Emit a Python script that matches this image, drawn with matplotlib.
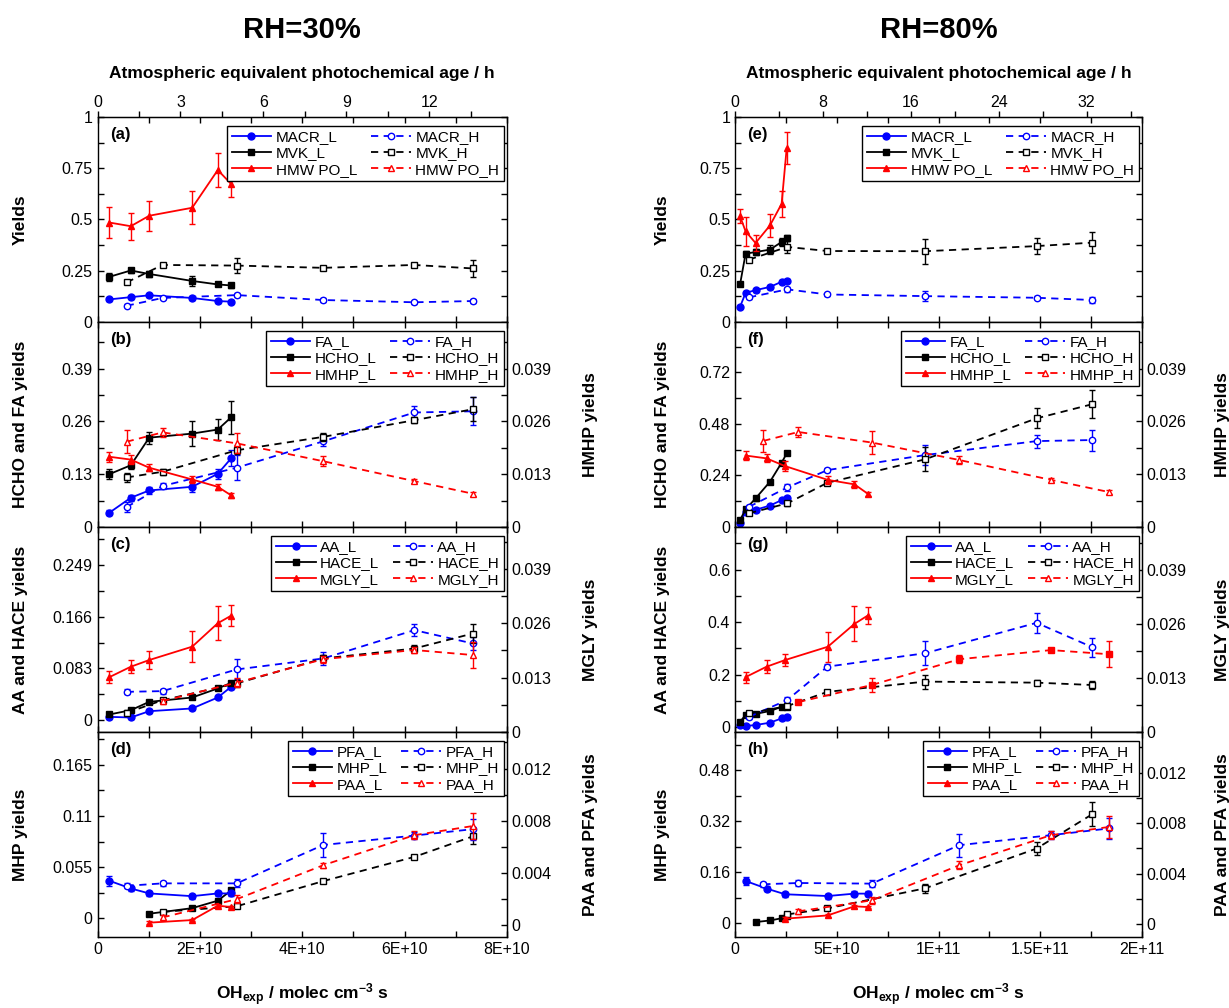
import matplotlib
matplotlib.use('Agg')
import matplotlib.pyplot as plt
from matplotlib.lines import Line2D
from matplotlib.ticker import AutoMinorLocator

plt.rcParams['font.family'] = ['Liberation Sans', 'DejaVu Sans']
plt.rcParams['mathtext.fontset'] = 'custom'
plt.rcParams['mathtext.rm'] = 'Liberation Sans'
plt.rcParams['mathtext.bf'] = 'Liberation Sans:bold'
plt.rcParams['mathtext.default'] = 'bf'

BLUE = '#0000ff'
RED = '#ff0000'
BLACK = '#000000'

# OH exposure, units of 1E10 molec cm-3 s
xL30 = [0.23, 0.65, 1.01, 1.85, 2.35, 2.61]
xH30 = [0.57, 1.27, 2.72, 4.41, 6.19, 7.33]
xL80 = [0.25, 0.52, 1.01, 1.72, 2.29, 2.54]
xH80 = [0.69, 2.57, 4.54, 9.34, 14.82, 17.56]
xL80b = [0.52, 1.55, 2.46, 4.56, 5.87, 6.52]     # HMHP, MGLY, PAA, PFA at RH=80%
xH80b = [1.39, 3.11, 6.72, 11.02, 15.53, 18.38]

# ---- RH=30% ----
# (a)
macr_L30 = [0.110, 0.121, 0.130, 0.117, 0.102, 0.099]
macr_L30_e = [0.008, 0.008, 0.008, 0.008, 0.008, 0.008]
mvk_L30 = [0.220, 0.251, 0.234, 0.200, 0.183, 0.178]
mvk_L30_e = [0.020, 0.012, 0.015, 0.025, 0.010, 0.010]
hmwpo_L30 = [0.485, 0.467, 0.518, 0.557, 0.741, 0.673]
hmwpo_L30_e = [0.077, 0.065, 0.072, 0.080, 0.085, 0.065]
macr_H30 = [0.079, 0.117, 0.131, 0.107, 0.096, 0.102]
macr_H30_e = [0.008, 0.006, 0.008, 0.008, 0.008, 0.008]
mvk_H30 = [0.193, 0.278, 0.275, 0.264, 0.278, 0.261]
mvk_H30_e = [0.008, 0.008, 0.036, 0.008, 0.008, 0.040]
# (b)
fa_L30 = [0.035, 0.072, 0.090, 0.099, 0.131, 0.169]
fa_L30_e = [0.006, 0.008, 0.008, 0.012, 0.012, 0.020]
hcho_L30 = [0.130, 0.152, 0.220, 0.230, 0.240, 0.270]
hcho_L30_e = [0.012, 0.010, 0.015, 0.030, 0.025, 0.040]
hmhp_L30 = [0.0173, 0.0166, 0.0146, 0.0117, 0.0099, 0.0078]
hmhp_L30_e = [0.0012, 0.0012, 0.0008, 0.0008, 0.0008, 0.0006]
fa_H30 = [0.049, 0.101, 0.146, 0.211, 0.282, 0.285]
fa_H30_e = [0.012, 0.008, 0.031, 0.012, 0.015, 0.035]
hcho_H30 = [0.122, 0.136, 0.189, 0.222, 0.263, 0.290]
hcho_H30_e = [0.010, 0.008, 0.010, 0.010, 0.008, 0.030]
hmhp_H30 = [0.0210, 0.0233, 0.0206, 0.0162, 0.0113, 0.0082]
hmhp_H30_e = [0.0029, 0.0012, 0.0025, 0.0012, 0.0005, 0.0005]
# (c)
aa_L30 = [0.0053, 0.0043, 0.0144, 0.0188, 0.0364, 0.0535]
hace_L30 = [0.0091, 0.016, 0.0294, 0.0364, 0.0509, 0.0599]
mgly_L30 = [0.0131, 0.0156, 0.0172, 0.0204, 0.0260, 0.0278]
mgly_L30_e = [0.0014, 0.0015, 0.0021, 0.0037, 0.0040, 0.0025]
aa_H30 = [0.0455, 0.0466, 0.0814, 0.099, 0.1445, 0.1231]
aa_H30_e = [0.004, 0.004, 0.016, 0.010, 0.010, 0.010]
hace_H30 = [0.0118, 0.032, 0.059, 0.099, 0.115, 0.139]
hace_H30_e = [0.004, 0.004, 0.006, 0.006, 0.006, 0.015]
mgly_H30 = [0.0074, 0.0118, 0.0174, 0.0196, 0.0184]
mgly_H30_e = [0.0006, 0.0010, 0.0008, 0.0006, 0.0032]
# (d)
pfa_L30 = [0.00341, 0.00282, 0.00244, 0.00223, 0.00244, 0.00244]
pfa_L30_e = [0.0004, 0.0002, 0.0002, 0.0002, 0.0002, 0.0002]
mhp_L30 = [0.005, 0.011, 0.019, 0.030]
paa_L30 = [0.0002, 0.0004, 0.0015, 0.0014]
pfa_H30 = [0.00302, 0.00321, 0.00321, 0.00615, 0.00687, 0.00736]
pfa_H30_e = [0.0002, 0.0002, 0.0003, 0.0009, 0.0003, 0.0008]
mhp_H30 = [0.007, 0.013, 0.040, 0.066, 0.088]
mhp_H30_e = [0.002, 0.002, 0.002, 0.002, 0.008]
paa_H30 = [0.0006, 0.0020, 0.0046, 0.0069, 0.0076]
paa_H30_e = [0.0002, 0.0003, 0.0002, 0.0003, 0.0010]

# ---- RH=80% ----
# (e)
macr_L80 = [0.074, 0.142, 0.155, 0.171, 0.196, 0.202]
mvk_L80 = [0.184, 0.333, 0.341, 0.353, 0.390, 0.409]
mvk_L80_e = [0.010, 0.015, 0.015, 0.020, 0.020, 0.015]
hmwpo_L80 = [0.515, 0.442, 0.385, 0.471, 0.576, 0.848]
hmwpo_L80_e = [0.034, 0.071, 0.040, 0.057, 0.062, 0.077]
macr_H80 = [0.120, 0.159, 0.134, 0.126, 0.118, 0.107]
macr_H80_e = [0.008, 0.012, 0.008, 0.025, 0.008, 0.015]
mvk_H80 = [0.304, 0.366, 0.346, 0.345, 0.370, 0.387]
mvk_H80_e = [0.010, 0.030, 0.010, 0.060, 0.038, 0.050]
# (f)
fa_L80 = [0.020, 0.070, 0.080, 0.100, 0.125, 0.135]
hcho_L80 = [0.033, 0.082, 0.133, 0.211, 0.299, 0.343]
hmhp_L80 = [0.0176, 0.0169, 0.0150, 0.0116, 0.0105, 0.0082]
hmhp_L80_e = [0.0012, 0.0010, 0.0012, 0.0010, 0.0008, 0.0005]
fa_H80 = [0.094, 0.184, 0.265, 0.335, 0.400, 0.405]
fa_H80_e = [0.010, 0.015, 0.010, 0.047, 0.030, 0.049]
hcho_H80 = [0.064, 0.110, 0.206, 0.315, 0.506, 0.572]
hcho_H80_e = [0.010, 0.010, 0.010, 0.056, 0.047, 0.066]
hmhp_H80 = [0.0212, 0.0234, 0.0208, 0.0165, 0.0116, 0.0086]
hmhp_H80_e = [0.0028, 0.0012, 0.0029, 0.0010, 0.0005, 0.0005]
# (g)
aa_L80 = [0.0076, 0.0038, 0.0076, 0.0165, 0.033, 0.039]
hace_L80 = [0.020, 0.046, 0.050, 0.061, 0.077, 0.077]
mgly_L80 = [0.0132, 0.0157, 0.0173, 0.0205, 0.0260, 0.0280]
mgly_L80_e = [0.0013, 0.0015, 0.0015, 0.0036, 0.0042, 0.0020]
aa_H80 = [0.039, 0.103, 0.230, 0.281, 0.397, 0.304]
aa_H80_e = [0.008, 0.010, 0.010, 0.046, 0.038, 0.037]
hace_H80 = [0.052, 0.080, 0.134, 0.173, 0.169, 0.160]
hace_H80_e = [0.008, 0.008, 0.008, 0.027, 0.010, 0.017]
mgly_H80 = [0.0072, 0.0113, 0.0175, 0.0197, 0.0187]
mgly_H80_e = [0.0005, 0.0016, 0.0010, 0.0005, 0.0031]
# (h)
pfa_L80 = [0.00343, 0.00283, 0.00238, 0.00224, 0.00243, 0.00243]
pfa_L80_e = [0.0003, 0.0002, 0.0002, 0.0002, 0.0002, 0.0002]
mhp_L80 = [0.003, 0.008, 0.015, 0.022]
paa_L80 = [0.00045, 0.00071, 0.00143, 0.00137]
pfa_H80 = [0.00317, 0.00327, 0.00322, 0.00626, 0.00705, 0.00758]
pfa_H80_e = [0.0002, 0.0002, 0.0003, 0.0009, 0.0003, 0.0008]
mhp_H80 = [0.027, 0.046, 0.109, 0.234, 0.342]
mhp_H80_e = [0.005, 0.005, 0.015, 0.020, 0.038]
paa_H80 = [0.00103, 0.0019, 0.00467, 0.00705, 0.0077]
paa_H80_e = [0.0002, 0.0003, 0.0003, 0.0003, 0.0009]

DASH = (0, (4, 3))
TS = 11.5   # tick label size
LS = 12.5   # axis label size


def draw(ax, x, y, err, c, m, H, filled=None):
    if filled is None:
        filled = not H
    if err is not None:
        ax.errorbar(x, y, yerr=err, fmt='none', ecolor=c, elinewidth=1, capsize=2.5, capthick=1)
    ln, = ax.plot(x, y, color=c, ls=DASH if H else '-', lw=1.3, marker=m,
                  ms=5 if filled else 4.6, mfc=c if filled else 'white', mec=c, mew=1)
    return ln


def proxy(c, m, H):
    return Line2D([], [], color=c, ls=DASH if H else '-', lw=1.3, marker=m, ms=4.6,
                  mfc='white' if H else c, mec=c, mew=1)


def setup(ax, col, yl, yt, ytl, ylab, letter, bottom_labels):
    ax.set_ylim(yl)
    ax.set_yticks(yt, ytl)
    ax.yaxis.set_minor_locator(AutoMinorLocator(2))
    if col == 0:
        ax.set_xlim(0, 8)
        ax.set_xticks([0, 2, 4, 6, 8], ['0', '2E+10', '4E+10', '6E+10', '8E+10'])
        ax.yaxis.set_label_coords(-0.170, 0.5)
    else:
        ax.set_xlim(0, 20)
        ax.set_xticks([0, 5, 10, 15, 20], ['0', '5E+10', '1E+11', '1.5E+11', '2E+11'])
        ax.yaxis.set_label_coords(-0.160, 0.5)
    ax.xaxis.set_minor_locator(AutoMinorLocator(2))
    ax.tick_params(which='both', direction='in', length=4, width=1, top=True, right=False,
                   labelsize=TS, labelbottom=bottom_labels)
    ax.set_ylabel(ylab, fontsize=LS, fontweight='bold')
    ax.text(0.03, 0.915, letter, transform=ax.transAxes, fontsize=12, fontweight='bold',
            va='center', ha='left')
    for s in ax.spines.values():
        s.set_linewidth(1)


def twin(ax, col, yl, yt, ytl, ylab):
    a2 = ax.twinx()
    a2.set_ylim(yl)
    a2.set_yticks(yt, ytl)
    a2.yaxis.set_minor_locator(AutoMinorLocator(2))
    a2.tick_params(which='both', direction='in', length=4, width=1, labelsize=TS)
    a2.set_ylabel(ylab, fontsize=LS, fontweight='bold')
    a2.yaxis.set_label_coords(1.186 if col == 0 else 1.179, 0.5)
    return a2


def legend(ax, handles, labels):
    lg = ax.legend(handles, labels, ncol=2, loc='upper right', bbox_to_anchor=(0.992, 0.958),
                   borderaxespad=0, fontsize=11, frameon=True, fancybox=False, framealpha=1,
                   edgecolor='black', labelspacing=0.15, borderpad=0.3, handlelength=2.6,
                   handletextpad=0.3, columnspacing=0.9)
    lg.get_frame().set_linewidth(1)


fig = plt.figure(figsize=(12.29, 10.08), dpi=100)
lefts = [97.5 / 1229, 735 / 1229]
widths = [409.5 / 1229, 407 / 1229]
bottoms = [0.6806, 0.4772, 0.2738, 0.0704]
h = 0.2034

axes = [[fig.add_axes([lefts[c], bottoms[r], widths[c], h]) for r in range(4)] for c in range(2)]

# ---------------- RH=30% -----------------
a, b, c, d = axes[0]
# (a)
setup(a, 0, (0, 1), [0, 0.25, 0.5, 0.75, 1], ['0', '0.25', '0.5', '0.75', '1'], 'Yields', '(a)', False)
a.tick_params(which='both', right=True)
h1 = draw(a, xL30, macr_L30, macr_L30_e, BLUE, 'o', False)
h2 = draw(a, xL30, mvk_L30, mvk_L30_e, BLACK, 's', False)
h3 = draw(a, xL30, hmwpo_L30, hmwpo_L30_e, RED, '^', False)
h4 = draw(a, xH30, macr_H30, macr_H30_e, BLUE, 'o', True)
h5 = draw(a, xH30, mvk_H30, mvk_H30_e, BLACK, 's', True)
h6 = proxy(RED, '^', True)
legend(a, [h1, h2, h3, h4, h5, h6], ['MACR_L', 'MVK_L', 'HMW PO_L', 'MACR_H', 'MVK_H', 'HMW PO_H'])

# (b)
setup(b, 0, (0, 0.505), [0, 0.13, 0.26, 0.39], ['0', '0.13', '0.26', '0.39'], 'HCHO and FA yields', '(b)', False)
b2 = twin(b, 0, (0, 0.0505), [0, 0.013, 0.026, 0.039], ['0', '0.013', '0.026', '0.039'], 'HMHP yields')
h1 = draw(b, xL30, fa_L30, fa_L30_e, BLUE, 'o', False)
h2 = draw(b, xL30, hcho_L30, hcho_L30_e, BLACK, 's', False)
h3 = draw(b2, xL30, hmhp_L30, hmhp_L30_e, RED, '^', False)
h4 = draw(b, xH30, fa_H30, fa_H30_e, BLUE, 'o', True)
h5 = draw(b, xH30, hcho_H30, hcho_H30_e, BLACK, 's', True)
h6 = draw(b2, xH30, hmhp_H30, hmhp_H30_e, RED, '^', True)
legend(b2, [h1, h2, h3, h4, h5, h6], ['FA_L', 'HCHO_L', 'HMHP_L', 'FA_H', 'HCHO_H', 'HMHP_H'])

# (c)
setup(c, 0, (-0.019, 0.31), [0, 0.083, 0.166, 0.249], ['0', '0.083', '0.166', '0.249'], 'AA and HACE yields', '(c)', False)
c2 = twin(c, 0, (0, 0.049), [0, 0.013, 0.026, 0.039], ['0', '0.013', '0.026', '0.039'], 'MGLY yields')
h1 = draw(c, xL30, aa_L30, [0.003] * 6, BLUE, 'o', False)
h2 = draw(c, xL30, hace_L30, [0.003] * 6, BLACK, 's', False)
h3 = draw(c2, xL30, mgly_L30, mgly_L30_e, RED, '^', False)
h4 = draw(c, xH30, aa_H30, aa_H30_e, BLUE, 'o', True)
h5 = draw(c, xH30, hace_H30, hace_H30_e, BLACK, 's', True)
h6 = draw(c2, xH30[1:], mgly_H30, mgly_H30_e, RED, '^', True)
legend(c2, [h1, h2, h3, h4, h5, h6], ['AA_L', 'HACE_L', 'MGLY_L', 'AA_H', 'HACE_H', 'MGLY_H'])

# (d)
setup(d, 0, (-0.02, 0.2), [0, 0.055, 0.11, 0.165], ['0', '0.055', '0.11', '0.165'], 'MHP yields', '(d)', True)
d2 = twin(d, 0, (-0.0009, 0.0148), [0, 0.004, 0.008, 0.012], ['0', '0.004', '0.008', '0.012'], 'PAA and PFA yields')
h2 = draw(d, xL30[2:], mhp_L30, [0.001] * 4, BLACK, 's', False)
h5 = draw(d, xH30[1:], mhp_H30, mhp_H30_e, BLACK, 's', True)
h1 = draw(d2, xL30, pfa_L30, pfa_L30_e, BLUE, 'o', False)
h3 = draw(d2, xL30[2:], paa_L30, [0.0001] * 4, RED, '^', False)
h4 = draw(d2, xH30, pfa_H30, pfa_H30_e, BLUE, 'o', True)
h6 = draw(d2, xH30[1:], paa_H30, paa_H30_e, RED, '^', True)
legend(d2, [h1, h2, h3, h4, h5, h6], ['PFA_L', 'MHP_L', 'PAA_L', 'PFA_H', 'MHP_H', 'PAA_H'])
d.set_xlabel('OH$_{exp}$ / molec cm$^{-3}$ s', fontsize=LS, fontweight='bold', labelpad=18)

# ---------------- RH=80% -----------------
e, f, g, hh = axes[1]
# (e)
setup(e, 1, (0, 1), [0, 0.25, 0.5, 0.75, 1], ['0', '0.25', '0.5', '0.75', '1'], 'Yields', '(e)', False)
e.tick_params(which='both', right=True)
h1 = draw(e, xL80, macr_L80, [0.008] * 6, BLUE, 'o', False)
h2 = draw(e, xL80, mvk_L80, mvk_L80_e, BLACK, 's', False)
h3 = draw(e, xL80, hmwpo_L80, hmwpo_L80_e, RED, '^', False)
h4 = draw(e, xH80, macr_H80, macr_H80_e, BLUE, 'o', True)
h5 = draw(e, xH80, mvk_H80, mvk_H80_e, BLACK, 's', True)
h6 = proxy(RED, '^', True)
legend(e, [h1, h2, h3, h4, h5, h6], ['MACR_L', 'MVK_L', 'HMW PO_L', 'MACR_H', 'MVK_H', 'HMW PO_H'])

# (f)
setup(f, 1, (0, 0.955), [0, 0.24, 0.48, 0.72], ['0', '0.24', '0.48', '0.72'], 'HCHO and FA yields', '(f)', False)
f2 = twin(f, 1, (0, 0.0505), [0, 0.013, 0.026, 0.039], ['0', '0.013', '0.026', '0.039'], 'HMHP yields')
h1 = draw(f, xL80, fa_L80, [0.008] * 6, BLUE, 'o', False)
h2 = draw(f, xL80, hcho_L80, [0.01] * 6, BLACK, 's', False)
h3 = draw(f2, xL80b, hmhp_L80, hmhp_L80_e, RED, '^', False)
h4 = draw(f, xH80, fa_H80, fa_H80_e, BLUE, 'o', True)
h5 = draw(f, xH80, hcho_H80, hcho_H80_e, BLACK, 's', True)
h6 = draw(f2, xH80b, hmhp_H80, hmhp_H80_e, RED, '^', True)
legend(f2, [h1, h2, h3, h4, h5, h6], ['FA_L', 'HCHO_L', 'HMHP_L', 'FA_H', 'HCHO_H', 'HMHP_H'])

# (g)
setup(g, 1, (-0.019, 0.762), [0, 0.2, 0.4, 0.6], ['0', '0.2', '0.4', '0.6'], 'AA and HACE yields', '(g)', False)
g2 = twin(g, 1, (0, 0.0493), [0, 0.013, 0.026, 0.039], ['0', '0.013', '0.026', '0.039'], 'MGLY yields')
h1 = draw(g, xL80, aa_L80, [0.005] * 6, BLUE, 'o', False)
h2 = draw(g, xL80, hace_L80, [0.005] * 6, BLACK, 's', False)
h3 = draw(g2, xL80b, mgly_L80, mgly_L80_e, RED, '^', False)
h4 = draw(g, xH80, aa_H80, aa_H80_e, BLUE, 'o', True)
h5 = draw(g, xH80, hace_H80, hace_H80_e, BLACK, 's', True)
draw(g2, xH80b[1:], mgly_H80, mgly_H80_e, RED, 's', True, filled=True)
h6 = proxy(RED, '^', True)
legend(g2, [h1, h2, h3, h4, h5, h6], ['AA_L', 'HACE_L', 'MGLY_L', 'AA_H', 'HACE_H', 'MGLY_H'])

# (h)
setup(hh, 1, (-0.044, 0.6), [0, 0.16, 0.32, 0.48], ['0', '0.16', '0.32', '0.48'], 'MHP yields', '(h)', True)
h2_ = twin(hh, 1, (-0.001, 0.0152), [0, 0.004, 0.008, 0.012], ['0', '0.004', '0.008', '0.012'], 'PAA and PFA yields')
h2 = draw(hh, xL80[2:], mhp_L80, [0.002] * 4, BLACK, 's', False)
h5 = draw(hh, xH80[1:], mhp_H80, mhp_H80_e, BLACK, 's', True)
h1 = draw(h2_, xL80b, pfa_L80, pfa_L80_e, BLUE, 'o', False)
h3 = draw(h2_, xL80b[2:], paa_L80, [0.0001] * 4, RED, '^', False)
h4 = draw(h2_, xH80b, pfa_H80, pfa_H80_e, BLUE, 'o', True)
h6 = draw(h2_, xH80b[1:], paa_H80, paa_H80_e, RED, '^', True)
legend(h2_, [h1, h2, h3, h4, h5, h6], ['PFA_L', 'MHP_L', 'PAA_L', 'PFA_H', 'MHP_H', 'PAA_H'])
hh.set_xlabel('OH$_{exp}$ / molec cm$^{-3}$ s', fontsize=LS, fontweight='bold', labelpad=18)

# top axes: photochemical age, [OH] = 1.5E6 molec cm-3
for ax, ticks in [(a, [0, 3, 6, 9, 12]), (e, [0, 8, 16, 24, 32])]:
    sec = ax.secondary_xaxis('top', functions=(lambda v: v / 0.54, lambda v: v * 0.54))
    sec.set_xticks(ticks)
    sec.xaxis.set_minor_locator(AutoMinorLocator(2))
    sec.tick_params(which='both', direction='out', length=4, width=1, labelsize=TS, pad=1)
    sec.set_xlabel('Atmospheric equivalent photochemical age / h', fontsize=LS, fontweight='bold', labelpad=12)

fig.text(lefts[0] + widths[0] / 2, 0.970, 'RH=30%', ha='center', va='center', fontsize=21, fontweight='bold')
fig.text(lefts[1] + widths[1] / 2, 0.970, 'RH=80%', ha='center', va='center', fontsize=21, fontweight='bold')

fig.savefig('out.png', dpi=100)
